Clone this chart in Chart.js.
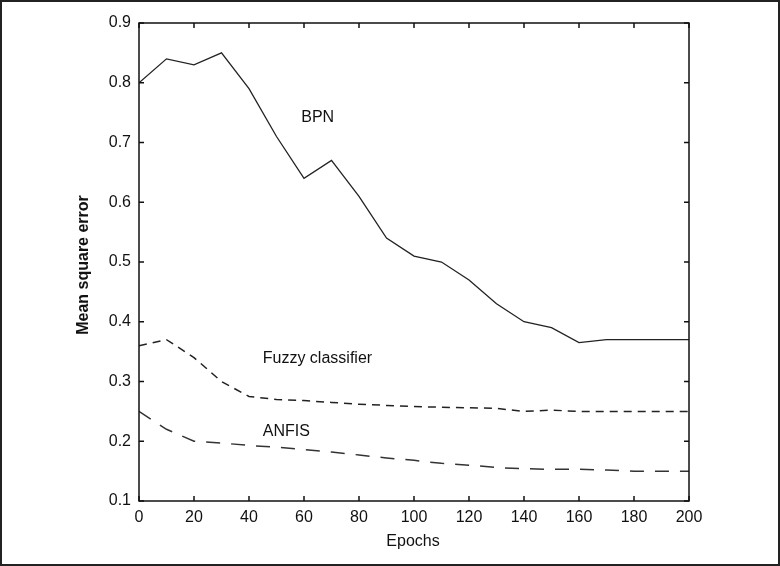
<!DOCTYPE html>
<html>
<head>
<meta charset="utf-8">
<script src="https://cdn.jsdelivr.net/npm/chart.js@4/dist/chart.umd.min.js"></script>
<style>
html,body{margin:0;padding:0;background:#fff;}
canvas{display:block;}
</style>
</head>
<body>
<canvas id="c" width="780" height="566"></canvas>
<script>
const epochs = [0,10,20,30,40,50,60,70,80,90,100,110,120,130,140,150,160,170,180,190,200];
const bpn    = [0.80,0.84,0.83,0.85,0.79,0.71,0.64,0.67,0.61,0.54,0.51,0.50,0.47,0.43,0.40,0.39,0.365,0.37,0.37,0.37,0.37];
const fuzzy  = [0.36,0.37,0.34,0.30,0.275,0.27,0.268,0.265,0.262,0.26,0.258,0.257,0.256,0.255,0.25,0.252,0.25,0.25,0.25,0.25,0.25];
const anfis  = [0.25,0.22,0.20,0.197,0.193,0.19,0.186,0.182,0.177,0.172,0.168,0.163,0.16,0.156,0.154,0.153,0.153,0.152,0.15,0.15,0.15];
const yTicks = [0.1,0.2,0.3,0.4,0.5,0.6,0.7,0.8,0.9];
const xTicks = [0,20,40,60,80,100,120,140,160,180,200];
const seriesNames = ["BPN","Fuzzy classifier","ANFIS"];
const labelPos = [{x:59,y:0.741},{x:45,y:0.339},{x:45,y:0.2155}];
const xTitle = "Epochs";
const yTitle = "Mean square error";

const FONT = '"Liberation Sans", Arial, sans-serif';
const toPts = arr => arr.map((v,i)=>({x:epochs[i], y:v}));

const framePlugin = {
  id:'frame',
  afterDraw(chart){
    const ctx = chart.ctx, a = chart.chartArea;
    const xs = chart.scales.x, ys = chart.scales.y;
    ctx.save();
    ctx.strokeStyle = '#222'; ctx.lineWidth = 2;
    ctx.strokeRect(1,1,chart.width-2,chart.height-2);
    ctx.strokeStyle = '#111'; ctx.lineWidth = 1.5;
    ctx.strokeRect(a.left, a.top, a.right-a.left, a.bottom-a.top);
    const L = 5;
    ctx.beginPath();
    xTicks.forEach(v=>{
      const px = xs.getPixelForValue(v);
      ctx.moveTo(px,a.bottom); ctx.lineTo(px,a.bottom-L);
      ctx.moveTo(px,a.top); ctx.lineTo(px,a.top+L);
    });
    yTicks.forEach(v=>{
      const py = ys.getPixelForValue(v);
      ctx.moveTo(a.left,py); ctx.lineTo(a.left+L,py);
      ctx.moveTo(a.right,py); ctx.lineTo(a.right-L,py);
    });
    ctx.stroke();
    ctx.fillStyle = '#111';
    ctx.font = '16px ' + FONT;
    ctx.textAlign = 'center'; ctx.textBaseline = 'middle';
    ctx.fillText(xTitle, (a.left+a.right)/2 - 1, 542);
    ctx.save();
    ctx.translate(84, 265);
    ctx.rotate(-Math.PI/2);
    ctx.font = 'bold 16px ' + FONT;
    ctx.fillText(yTitle, 0, 0);
    ctx.restore();
    ctx.font = '16px ' + FONT;
    ctx.textAlign = 'left';
    seriesNames.forEach((n,i)=>{
      ctx.fillText(n, xs.getPixelForValue(labelPos[i].x), ys.getPixelForValue(labelPos[i].y));
    });
    ctx.restore();
  }
};

new Chart(document.getElementById('c'), {
  type:'line',
  data:{
    datasets:[
      {label:seriesNames[0], data:toPts(bpn), borderColor:'#222', borderWidth:1.3, pointRadius:0, tension:0},
      {label:seriesNames[1], data:toPts(fuzzy), borderColor:'#222', borderWidth:1.5, borderDash:[8,6], pointRadius:0, tension:0},
      {label:seriesNames[2], data:toPts(anfis), borderColor:'#333', borderWidth:1.5, borderDash:[14,11], pointRadius:0, tension:0}
    ]
  },
  options:{
    responsive:false,
    animation:false,
    layout:{padding:{left:0, top:23, right:91, bottom:0}},
    plugins:{legend:{display:false}, tooltip:{enabled:false}},
    scales:{
      x:{
        type:'linear', min:0, max:200,
        afterBuildTicks(s){ s.ticks = xTicks.map(v=>({value:v})); },
        afterFit(s){ s.height = 65; },
        grid:{display:false, drawTicks:false},
        border:{display:false},
        ticks:{padding:7, color:'#111', font:{family:FONT, size:16}, maxRotation:0, callback:v=>String(v)}
      },
      y:{
        type:'linear', min:0.1, max:0.9,
        afterBuildTicks(s){ s.ticks = yTicks.map(v=>({value:v})); },
        afterFit(s){ s.width = 139; },
        grid:{display:false, drawTicks:false},
        border:{display:false},
        ticks:{padding:8, color:'#111', font:{family:FONT, size:16}, callback:v=>Number(v).toFixed(1)}
      }
    }
  },
  plugins:[framePlugin]
});
</script>
</body>
</html>
